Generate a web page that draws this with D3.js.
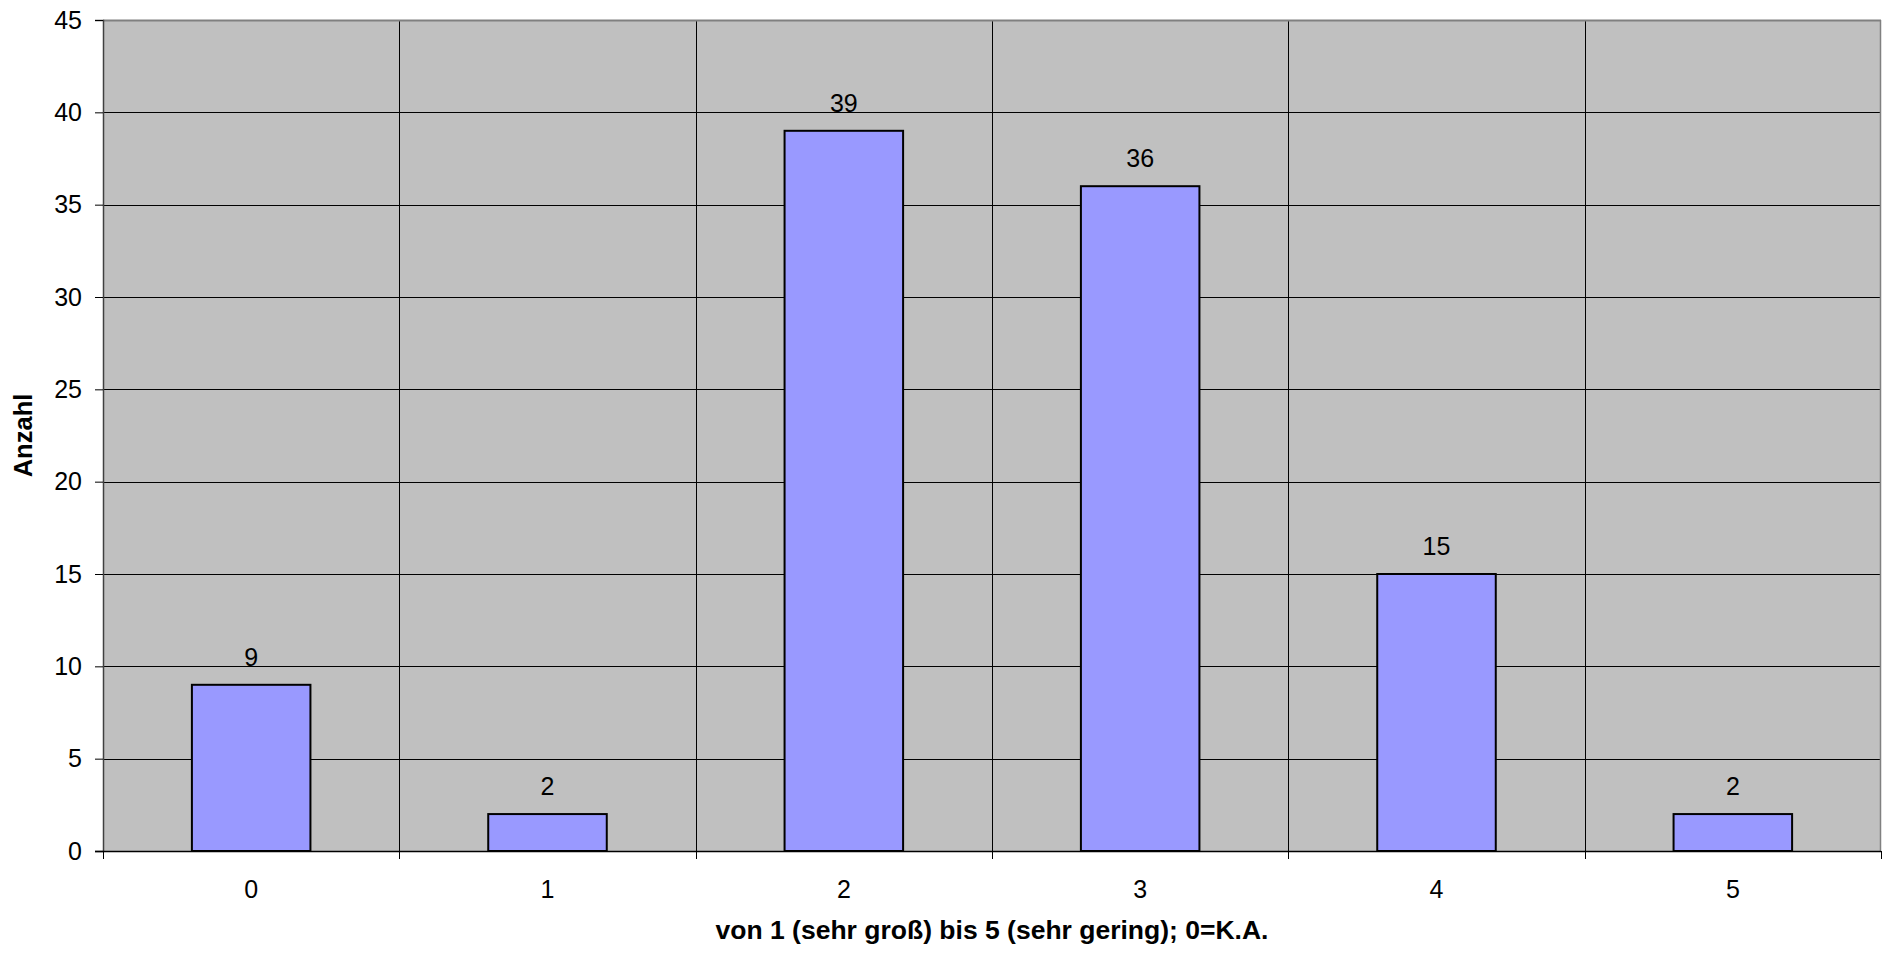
<!DOCTYPE html>
<html><head><meta charset="utf-8">
<script src="https://cdn.jsdelivr.net/npm/d3@7"></script>
<style>body{margin:0;background:#fff}svg{display:block}text{font-family:"Liberation Sans",Arial,sans-serif}</style>
</head><body>
<svg id="c" width="1883" height="954"></svg>
<script>
const categories = ["0","1","2","3","4","5"];
const values = [9, 2, 39, 36, 15, 2];
const yTicks = [0,5,10,15,20,25,30,35,40,45];
const xTitle = "von 1 (sehr groß) bis 5 (sehr gering); 0=K.A.";
const yTitle = "Anzahl";

const svg = d3.select("#c");
const L = 103, R = 1881, T = 20, B = 851;
const FS = 25;
const x = d3.scaleBand().domain(categories).range([L, R]).paddingInner(0.6).paddingOuter(0.3);
const xb = d3.scaleBand().domain(categories).range([L, R]).padding(0);
const y = d3.scaleLinear().domain([0, 45]).range([B, T]);

svg.append("rect").attr("x", L).attr("y", T).attr("width", R - L).attr("height", B - T).attr("fill", "#c0c0c0");

// horizontal gridlines
svg.append("g").selectAll("line").data(yTicks.filter(d => d > 0 && d < 45)).join("line")
  .attr("x1", L).attr("x2", R).attr("y1", d => Math.round(y(d)) + 0.5).attr("y2", d => Math.round(y(d)) + 0.5)
  .attr("stroke", "#000").attr("stroke-width", 1);
// vertical gridlines at category boundaries
svg.append("g").selectAll("line").data(categories.slice(1)).join("line")
  .attr("x1", d => Math.round(xb(d)) + 0.5).attr("x2", d => Math.round(xb(d)) + 0.5)
  .attr("y1", T).attr("y2", B).attr("stroke", "#000").attr("stroke-width", 1);

// plot border
svg.append("line").attr("x1", L).attr("x2", R).attr("y1", T + 0.5).attr("y2", T + 0.5).attr("stroke", "#808080").attr("stroke-width", 2);
svg.append("line").attr("x1", R - 0.5).attr("x2", R - 0.5).attr("y1", T).attr("y2", B).attr("stroke", "#808080").attr("stroke-width", 1.5);

// bars
svg.append("g").selectAll("rect").data(values).join("rect")
  .attr("x", (d, i) => x(categories[i]))
  .attr("y", d => y(d))
  .attr("width", x.bandwidth())
  .attr("height", d => B - y(d))
  .attr("fill", "#9999ff").attr("stroke", "#000").attr("stroke-width", 2);

// value labels
svg.append("g").selectAll("text").data(values).join("text")
  .attr("x", (d, i) => x(categories[i]) + x.bandwidth() / 2)
  .attr("y", d => y(d) - 19)
  .attr("text-anchor", "middle").attr("font-size", FS).attr("fill", "#000")
  .text(d => d);

// y axis
const yAxis = svg.append("g").attr("transform", `translate(${L},0)`)
  .call(d3.axisLeft(y).tickValues(yTicks).tickSize(8).tickPadding(13));
yAxis.select(".domain").attr("stroke", "#404040").attr("stroke-width", 1.5);
yAxis.selectAll(".tick line").attr("stroke", "#000");
yAxis.selectAll("text").attr("font-size", FS).attr("fill", "#000").attr("font-family", '"Liberation Sans",Arial,sans-serif');

// x axis (labels centered in bands, ticks at boundaries)
const xAxis = svg.append("g").attr("transform", `translate(0,${B})`)
  .call(d3.axisBottom(x).tickSize(0).tickPadding(29));
xAxis.select(".domain").remove();
xAxis.selectAll("text").attr("font-size", FS).attr("fill", "#000").attr("font-family", '"Liberation Sans",Arial,sans-serif');
svg.append("line").attr("x1", L - 8).attr("x2", R).attr("y1", B + 0.5).attr("y2", B + 0.5).attr("stroke", "#000").attr("stroke-width", 1.5);
svg.append("g").selectAll("line").data(categories.concat(["end"])).join("line")
  .attr("x1", (d, i) => Math.round(i < categories.length ? xb(d) : R) + 0.5)
  .attr("x2", (d, i) => Math.round(i < categories.length ? xb(d) : R) + 0.5)
  .attr("y1", B).attr("y2", B + 8).attr("stroke", "#000");

// titles
svg.append("text").attr("x", (L + R) / 2).attr("y", 939).attr("text-anchor", "middle")
  .attr("font-size", 26.5).attr("font-weight", "bold").text(xTitle);
svg.append("text").attr("transform", `translate(32,${(T + B) / 2}) rotate(-90)`).attr("text-anchor", "middle")
  .attr("font-size", 25.5).attr("font-weight", "bold").text(yTitle);
</script>
</body></html>
